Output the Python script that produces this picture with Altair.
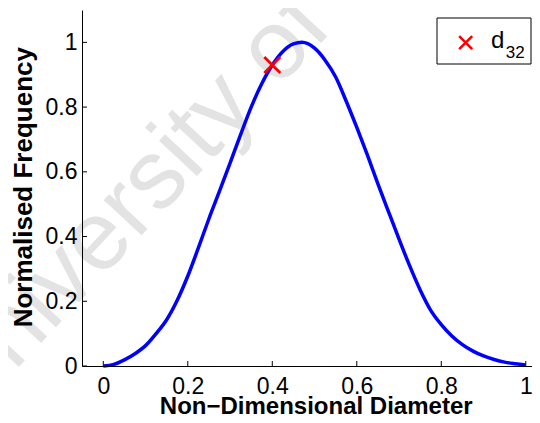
import altair as alt
import pandas as pd

# ---- data ----
diam = [0.0, 0.025, 0.05, 0.075, 0.10, 0.125, 0.15, 0.175, 0.20, 0.225,
        0.25, 0.275, 0.30, 0.325, 0.35, 0.375, 0.40, 0.425, 0.45, 0.47,
        0.50, 0.525, 0.55, 0.575, 0.60, 0.625, 0.65, 0.675, 0.70, 0.725,
        0.75, 0.775, 0.80, 0.825, 0.85, 0.875, 0.90, 0.925, 0.95, 0.975, 1.0]
freq = [0.000, 0.005, 0.019, 0.038, 0.063, 0.100, 0.143, 0.203, 0.278, 0.365,
        0.455, 0.540, 0.627, 0.715, 0.800, 0.872, 0.930, 0.972, 0.995, 1.000,
        0.982, 0.945, 0.893, 0.818, 0.737, 0.652, 0.563, 0.477, 0.392, 0.310,
        0.235, 0.172, 0.128, 0.093, 0.066, 0.046, 0.031, 0.020, 0.012, 0.007, 0.003]
d32_x = [0.4]
d32_y = [0.93]
x_ticks = [0, 0.2, 0.4, 0.6, 0.8, 1.0]
y_ticks = [0, 0.2, 0.4, 0.6, 0.8, 1.0]
legend_label = "d"
legend_sub = "32"
watermark = "University of Cape Town"

W, H = 450, 356
FONT = "Liberation Sans"
XSHAPE = "M-1,-1L1,1M1,-1L-1,1"

xscale = alt.Scale(domain=[-0.0504, 1.0147], nice=False, zero=False)
yscale = alt.Scale(domain=[0, 1.1], nice=False)

curve_df = pd.DataFrame({"x": diam, "y": freq})
pt_df = pd.DataFrame({"x": d32_x, "y": d32_y})
xt_df = pd.DataFrame({"t": x_ticks})
yt_df = pd.DataFrame({"t": y_ticks})
one = pd.DataFrame({"a": [0]})

xaxis = alt.Axis(
    values=x_ticks, format="~g", grid=False, ticks=False, tickSize=0,
    labelFontSize=23, labelFont=FONT, labelColor="black", labelPadding=9,
    domainColor="black", domainWidth=1, zindex=1,
    title="Non\u2212Dimensional Diameter", titleFont=FONT, titleFontSize=24,
    titleFontWeight="bold", titleColor="black", titleX=233.7, titleY=47,
    titleBaseline="alphabetic", titleAlign="center",
)
yaxis = alt.Axis(
    values=y_ticks, format="~g", grid=False, ticks=False, tickSize=0,
    labelFontSize=23, labelFont=FONT, labelColor="black", labelPadding=5,
    domainColor="black", domainWidth=1, zindex=1,
    title="Normalised Frequency", titleFont=FONT, titleFontSize=26,
    titleFontWeight="bold", titleColor="black", titleAngle=270,
    titleX=-51, titleY=176.7, titleBaseline="alphabetic", titleAlign="center",
)

wm = alt.Chart(one).mark_text(
    text=watermark, angle=313, fontSize=98, font=FONT, color="#e3e3e3",
    align="left", baseline="alphabetic",
).encode(x=alt.value(-116), y=alt.value(413.6))

curve = alt.Chart(curve_df).mark_line(
    color="#0000ff", strokeWidth=3.5, interpolate="monotone"
).encode(
    x=alt.X("x:Q", scale=xscale, axis=xaxis),
    y=alt.Y("y:Q", scale=yscale, axis=yaxis),
)

xticks = alt.Chart(xt_df).mark_rule(color="black", strokeWidth=1).encode(
    x=alt.X("t:Q", scale=xscale), y=alt.value(H), y2=alt.value(H - 5)
)
yticks = alt.Chart(yt_df).mark_rule(color="black", strokeWidth=1).encode(
    y=alt.Y("t:Q", scale=yscale), x=alt.value(0), x2=alt.value(5)
)

marker = alt.Chart(pt_df).mark_point(
    shape=XSHAPE, filled=False, color="#ff0000", strokeWidth=2.8,
    size=256, opacity=1,
).encode(x=alt.X("x:Q", scale=xscale), y=alt.Y("y:Q", scale=yscale))

LX, LY = -6, 2
leg_box = alt.Chart(one).mark_rect(
    fill="white", stroke="black", strokeWidth=1
).encode(x=alt.value(361 + LX), x2=alt.value(449),
         y=alt.value(6 + LY), y2=alt.value(52 + LY))
leg_sym = alt.Chart(one).mark_point(
    shape=XSHAPE, filled=False, color="#ff0000", strokeWidth=2.6,
    size=169, opacity=1,
).encode(x=alt.value(389.7 + LX), y=alt.value(30.7 + LY))
leg_d = alt.Chart(one).mark_text(
    text=legend_label, fontSize=24, font=FONT, color="black",
    align="left", baseline="alphabetic",
).encode(x=alt.value(415 + LX), y=alt.value(36.3 + LY))
leg_sub = alt.Chart(one).mark_text(
    text=legend_sub, fontSize=17, font=FONT, color="black",
    align="left", baseline="alphabetic",
).encode(x=alt.value(429.7 + LX), y=alt.value(45.7 + LY))

chart = alt.layer(
    wm, xticks, yticks, curve, marker, leg_box, leg_sym, leg_d, leg_sub
).properties(
    width=W, height=H,
    autosize=alt.AutoSizeParams(type="none"),
    padding={"left": 74, "top": 2, "right": 0, "bottom": 49},
    background="white",
).configure_view(strokeWidth=0)

chart.save("out.html", embed_options={"renderer": "svg", "actions": False})
